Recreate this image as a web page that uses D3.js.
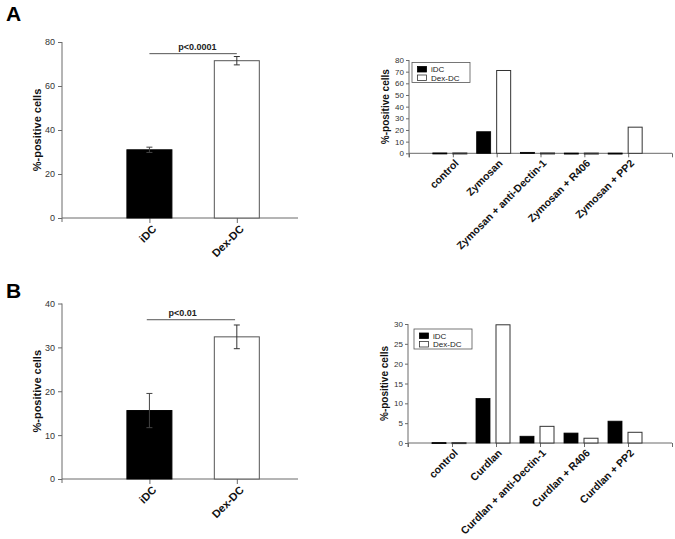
<!DOCTYPE html>
<html><head><meta charset="utf-8">
<script src="https://cdn.jsdelivr.net/npm/d3@7"></script>
<style>
html,body{margin:0;padding:0;background:#fff;}
svg{display:block;font-family:"Liberation Sans",Arial,Helvetica,sans-serif;}
</style></head>
<body>
<svg id="chart" width="675" height="539"></svg>
<script>
// ---------- DATA ----------
const pairCategories = ["iDC", "Dex-DC"];
const pairA = [31.0, 71.5];
const pairAErr = [1.2, 1.9];
const pairB = [15.6, 32.4];
const pairBErr = [3.9, 2.7];
const pairATicks = [0, 20, 40, 60, 80];
const pairBTicks = [0, 10, 20, 30, 40];
const sigA = "p<0.0001";
const sigB = "p<0.01";

const seriesNames = ["iDC", "Dex-DC"];
const zymoCategories = ["control", "Zymosan", "Zymosan + anti-Dectin-1", "Zymosan + R406", "Zymosan + PP2"];
const zymoIDC = [0.3, 18.5, 0.8, 0.2, 0.2];
const zymoDex = [0.3, 71.0, 0.3, 0.2, 22.4];
const zymoTicks = [0, 10, 20, 30, 40, 50, 60, 70, 80];
const curdCategories = ["control", "Curdlan", "Curdlan + anti-Dectin-1", "Curdlan + R406", "Curdlan + PP2"];
const curdIDC = [0.1, 11.2, 1.7, 2.5, 5.5];
const curdDex = [0.1, 29.8, 4.2, 1.2, 2.7];
const curdTicks = [0, 5, 10, 15, 20, 25, 30];

const svg = d3.select("#chart");
const AXC = "#6a6a6a", TXC = "#333";

// ---------- panel letters ----------
svg.append("text").attr("x", 6).attr("y", 21).attr("font-size", 21).attr("font-weight", "bold").text("A");
svg.append("text").attr("x", 6).attr("y", 298).attr("font-size", 21).attr("font-weight", "bold").text("B");

// ---------- two-bar panels ----------
function pairPanel(o) {
  const g = svg.append("g");
  const x = d3.scaleLinear().domain([0, 2.7]).range([o.x0, o.x1]);
  const y = d3.scaleLinear().domain([0, o.ymax]).range([o.y0, o.y1]);
  // y axis
  const ya = g.append("g").attr("transform", `translate(${o.x0},0)`)
    .call(d3.axisLeft(y).tickValues(o.ticks).tickSize(4).tickPadding(3).tickFormat(d3.format("d")));
  ya.select(".domain").attr("stroke", AXC).attr("d", `M0,${o.y0 + 4}V${o.y1}`);
  ya.selectAll(".tick line").attr("stroke", AXC);
  ya.selectAll("text").attr("font-size", 9).attr("fill", TXC).attr("font-family", null);
  // x axis
  const xa = g.append("g").attr("transform", `translate(0,${o.y0})`)
    .call(d3.axisBottom(x).tickValues([1, 2]).tickSize(5).tickFormat(""));
  xa.select(".domain").attr("stroke", AXC).attr("d", `M${o.x0},0H${o.x1}`);
  xa.selectAll(".tick line").attr("stroke", AXC);
  // bars
  const bw = 45;
  g.selectAll("rect.bar").data(o.vals).enter().append("rect")
    .attr("x", (d, i) => x(i + 1) - bw / 2).attr("width", bw)
    .attr("y", d => y(d)).attr("height", d => y(0) - y(d))
    .attr("fill", (d, i) => i === 0 ? "#000" : "#fff")
    .attr("stroke", (d, i) => i === 0 ? "#000" : "#555").attr("stroke-width", 1);
  // error bars
  o.vals.forEach((v, i) => {
    const cx = x(i + 1), e = o.errs[i];
    const c = i === 0 ? "#444" : "#333";
    g.append("line").attr("x1", cx).attr("x2", cx).attr("y1", y(v + e)).attr("y2", y(v - e)).attr("stroke", c);
    g.append("line").attr("x1", cx - 3).attr("x2", cx + 3).attr("y1", y(v + e)).attr("y2", y(v + e)).attr("stroke", c);
    g.append("line").attr("x1", cx - 3).attr("x2", cx + 3).attr("y1", y(v - e)).attr("y2", y(v - e)).attr("stroke", c);
  });
  // significance
  g.append("line").attr("x1", x(o.sx[0])).attr("x2", x(o.sx[1])).attr("y1", y(o.sy)).attr("y2", y(o.sy))
    .attr("stroke", "#555");
  g.append("text").attr("x", x(o.stx)).attr("y", y(o.sy) - 4).attr("text-anchor", "middle")
    .attr("font-size", 9).attr("font-weight", "bold").attr("fill", "#222").text(o.sig);
  // x labels
  pairCategories.forEach((c, i) => {
    g.append("text").attr("transform", `translate(${x(i + 1) + 5},${o.y0 + 9}) rotate(-45)`)
      .attr("text-anchor", "end").attr("dy", "0.35em").attr("font-size", 11).attr("font-weight", "bold")
      .attr("fill", "#111").text(c);
  });
  // y label
  g.append("text").attr("transform", `translate(${o.x0 - 21},${(o.y0 + o.y1) / 2}) rotate(-90)`)
    .attr("text-anchor", "middle").attr("font-size", 11).attr("font-weight", "bold").attr("fill", "#111")
    .text("%-positive cells");
}

pairPanel({x0: 62, x1: 298, y0: 218, y1: 42, ymax: 80, ticks: pairATicks, vals: pairA, errs: pairAErr,
  sx: [1, 2], sy: 74.7, stx: 1.55, sig: sigA});
pairPanel({x0: 62, x1: 298, y0: 479, y1: 303.5, ymax: 40, ticks: pairBTicks, vals: pairB, errs: pairBErr,
  sx: [0.97, 1.98], sy: 36.3, stx: 1.38, sig: sigB});

// ---------- grouped panels ----------
function groupPanel(o) {
  const g = svg.append("g");
  const x = d3.scaleLinear().domain([0, 6]).range([o.x0, o.x1]);
  const y = d3.scaleLinear().domain([0, o.ymax]).range([o.y0, o.y1]);
  const ya = g.append("g").attr("transform", `translate(${o.x0},0)`)
    .call(d3.axisLeft(y).tickValues(o.ticks).tickSize(3).tickPadding(2).tickFormat(d3.format("d")));
  ya.select(".domain").attr("stroke", AXC).attr("d", `M0,${o.y0 + 4}V${o.y1}`);
  ya.selectAll(".tick line").attr("stroke", AXC);
  ya.selectAll("text").attr("font-size", 8).attr("fill", TXC).attr("font-family", null);
  const xa = g.append("g").attr("transform", `translate(0,${o.y0})`)
    .call(d3.axisBottom(x).tickValues([0, 1, 2, 3, 4, 5, 6]).tickSize(4).tickFormat(""));
  xa.select(".domain").attr("stroke", AXC).attr("d", `M${o.x0},0H${o.x1}`);
  xa.selectAll(".tick line").attr("stroke", AXC);
  // bars
  const bw = 14;
  g.selectAll("rect.i").data(o.a).enter().append("rect")
    .attr("x", (d, i) => x(i + 1) - 20).attr("width", bw)
    .attr("y", d => y(d)).attr("height", d => Math.max(1, y(0) - y(d)))
    .attr("fill", "#000").attr("stroke", "#000").attr("stroke-width", 0.8);
  g.selectAll("rect.d").data(o.b).enter().append("rect")
    .attr("x", (d, i) => x(i + 1)).attr("width", bw)
    .attr("y", d => y(d)).attr("height", d => Math.max(1, y(0) - y(d)))
    .attr("fill", "#fff").attr("stroke", "#333").attr("stroke-width", 1);
  // x labels
  o.cats.forEach((c, i) => {
    g.append("text").attr("transform", `translate(${x(i + 1) + 4},${o.y0 + 8}) rotate(-45)`)
      .attr("text-anchor", "end").attr("dy", "0.35em").attr("font-size", 10.5).attr("font-weight", "bold")
      .attr("fill", "#111").text(c);
  });
  // y label
  g.append("text").attr("transform", `translate(${o.x0 - 20},${(o.y0 + o.y1) / 2}) rotate(-90)`)
    .attr("text-anchor", "middle").attr("font-size", 10).attr("font-weight", "bold").attr("fill", "#111")
    .text("%-positive cells");
  // legend
  const lg = g.append("g").attr("transform", `translate(${o.lx},${o.ly})`);
  lg.append("rect").attr("width", 58).attr("height", 20).attr("fill", "#fff").attr("stroke", "#555").attr("stroke-width", 0.8);
  seriesNames.forEach((s, i) => {
    lg.append("rect").attr("x", 5.5).attr("y", 4 + i * 8.5).attr("width", 9).attr("height", 5.5)
      .attr("fill", i === 0 ? "#000" : "#fff").attr("stroke", i === 0 ? "#000" : "#333").attr("stroke-width", 0.8);
    lg.append("text").attr("x", 19).attr("y", 9.5 + i * 8.5).attr("font-size", 8).attr("fill", "#222").text(s);
  });
}

groupPanel({x0: 409, x1: 672, y0: 153.3, y1: 60, ymax: 80, ticks: zymoTicks, cats: zymoCategories,
  a: zymoIDC, b: zymoDex, lx: 412, ly: 62.5});
groupPanel({x0: 408, x1: 672, y0: 443, y1: 324, ymax: 30, ticks: curdTicks, cats: curdCategories,
  a: curdIDC, b: curdDex, lx: 414, ly: 329});
</script>
</body></html>
